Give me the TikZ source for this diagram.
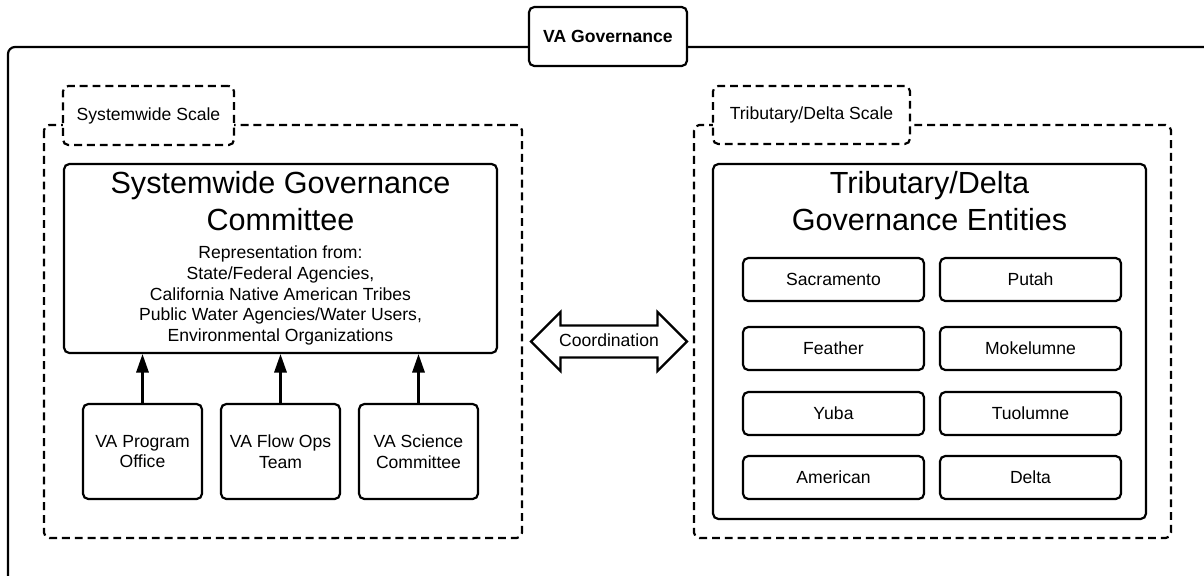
\documentclass[tikz,border=0pt]{standalone}
\usepackage{fontspec}
\setmainfont{Liberation Sans}
\usetikzlibrary{shapes.arrows,arrows.meta}

\tikzset{
  box/.style={draw, line width=1.25pt, rounded corners=3pt, fill=white, align=center, inner sep=0pt},
  scalebox/.style={box, dash pattern=on 4.5pt off 2.8pt},
  region/.style={line width=1.25pt, rounded corners=3pt, dash pattern=on 4.5pt off 2.8pt},
  arr/.style={line width=1.25pt, -{Triangle[length=10.5pt,width=7pt]}},
  big/.style={font=\fontsize{17.4}{21}\selectfont, align=center},
  small/.style={font=\fontsize{10}{11.8}\selectfont}
}

\begin{document}
\begin{tikzpicture}[x=0.02cm,y=-0.02cm]
\clip (0,0) rectangle (1204,575);

\draw[line width=1.25pt, rounded corners=4pt] (8,620) -- (8,47) -- (1240,47) -- (1240,620);
\node[box, font={\fontsize{10}{11.8}\selectfont\bfseries}, minimum width=3.16cm, minimum height=1.18cm] (top) at (608,36.5) {VA Governance};

\draw[region] (44,125) rectangle (522,538);
\draw[region] (694,125) rectangle (1171,538);
\node[scalebox, small, minimum width=3.42cm, minimum height=1.18cm] (sysscale) at (148.5,115.5) {Systemwide Scale};
\node[scalebox, small, minimum width=3.94cm, minimum height=1.16cm] (tribscale) at (811.5,115) {Tributary/Delta Scale};

\node[box, minimum width=8.66cm, minimum height=3.78cm] (committee) at (280.5,258.5) {};
\node[big] (committeetitle) at (280.5,201) {Systemwide Governance\\Committee};
\node[small, align=center] (reps) at (280.5,295.5) {Representation from:\\State/Federal Agencies,\\California Native American Tribes\\Public Water Agencies/Water Users,\\Environmental Organizations};

\node[box, small, minimum width=2.38cm, minimum height=1.9cm] (office) at (142.5,451.5) {VA Program\\Office};
\node[box, small, minimum width=2.38cm, minimum height=1.9cm] (flowops) at (280.5,451.5) {VA Flow Ops\\Team};
\node[box, small, minimum width=2.38cm, minimum height=1.9cm] (science) at (418.5,451.5) {VA Science\\Committee};

\draw[arr] (office) -- (office |- committee.south);
\draw[arr] (flowops) -- (flowops |- committee.south);
\draw[arr] (science) -- (science |- committee.south);

\node[double arrow, draw, line width=1.25pt, fill=white, small, minimum height=3.12cm, minimum width=1.14cm, double arrow head extend=0.27cm, inner xsep=0pt, inner ysep=4pt, text height=7.5pt, text depth=1.5pt] (coord) at (609,341.5) {Coordination};

\node[box, minimum width=8.66cm, minimum height=7.1cm] (entities) at (929.5,341.5) {};
\node[big] (entitiestitle) at (929.5,201) {Tributary/Delta\\Governance Entities};

\node[box, small, minimum width=3.62cm, minimum height=0.86cm] (sacramento) at (833.5,279.5) {Sacramento};
\node[box, small, minimum width=3.62cm, minimum height=0.86cm] (putah) at (1030.5,279.5) {Putah};
\node[box, small, minimum width=3.62cm, minimum height=0.86cm] (feather) at (833.5,348.5) {Feather};
\node[box, small, minimum width=3.62cm, minimum height=0.86cm] (mokelumne) at (1030.5,348.5) {Mokelumne};
\node[box, small, minimum width=3.62cm, minimum height=0.86cm] (yuba) at (833.5,413.5) {Yuba};
\node[box, small, minimum width=3.62cm, minimum height=0.86cm] (tuolumne) at (1030.5,413.5) {Tuolumne};
\node[box, small, minimum width=3.62cm, minimum height=0.86cm] (american) at (833.5,477.5) {American};
\node[box, small, minimum width=3.62cm, minimum height=0.86cm] (delta) at (1030.5,477.5) {Delta};

\end{tikzpicture}
\end{document}
